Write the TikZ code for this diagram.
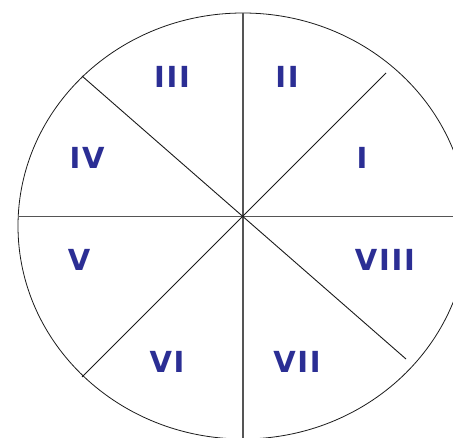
\documentclass[tikz,border=0pt]{standalone}
\usepackage{fontspec}
\setmainfont{DejaVu Sans}
\newfontfamily\numfont[LetterSpace=6]{DejaVu Sans}
\usepackage{tikz}
\definecolor{INK}{HTML}{1A1A1A}
\definecolor{AXIS}{HTML}{555555}
\definecolor{NAVY}{HTML}{2B2E94}
\begin{document}
\begin{tikzpicture}[x=1pt,y=-1pt]
\tikzset{rim/.style={INK,line width=0.8pt},cross/.style={AXIS,line width=1.3pt},
 diag/.style={INK,line width=0.9pt},num/.style={font=\numfont\fontsize{29}{29}\selectfont\bfseries,text=NAVY,inner sep=0pt}}
\useasboundingbox (0,0) rectangle (453,438);
\clip (0,0) rectangle (453,438);
\draw[rim] (243,226) ellipse[x radius=225,y radius=213];
\draw[cross] (243,13) -- (243,445);
\draw[cross] (19,216.7) -- (470,216.7);
\draw[diag] (82,76) -- (406,359);
\draw[diag] (386,73) -- (82,377);
\node[num] (n1) at (362,158) {I};
\node[num] (n2) at (287,77) {II};
\node[num] (n3) at (172,77) {III};
\node[num] (n4) at (87,158) {IV};
\node[num] (n5) at (79,260) {V};
\node[num] (n6) at (167,362) {VI};
\node[num] (n7) at (297,362) {VII};
\node[num] (n8) at (385,260) {VIII};
\end{tikzpicture}
\end{document}
